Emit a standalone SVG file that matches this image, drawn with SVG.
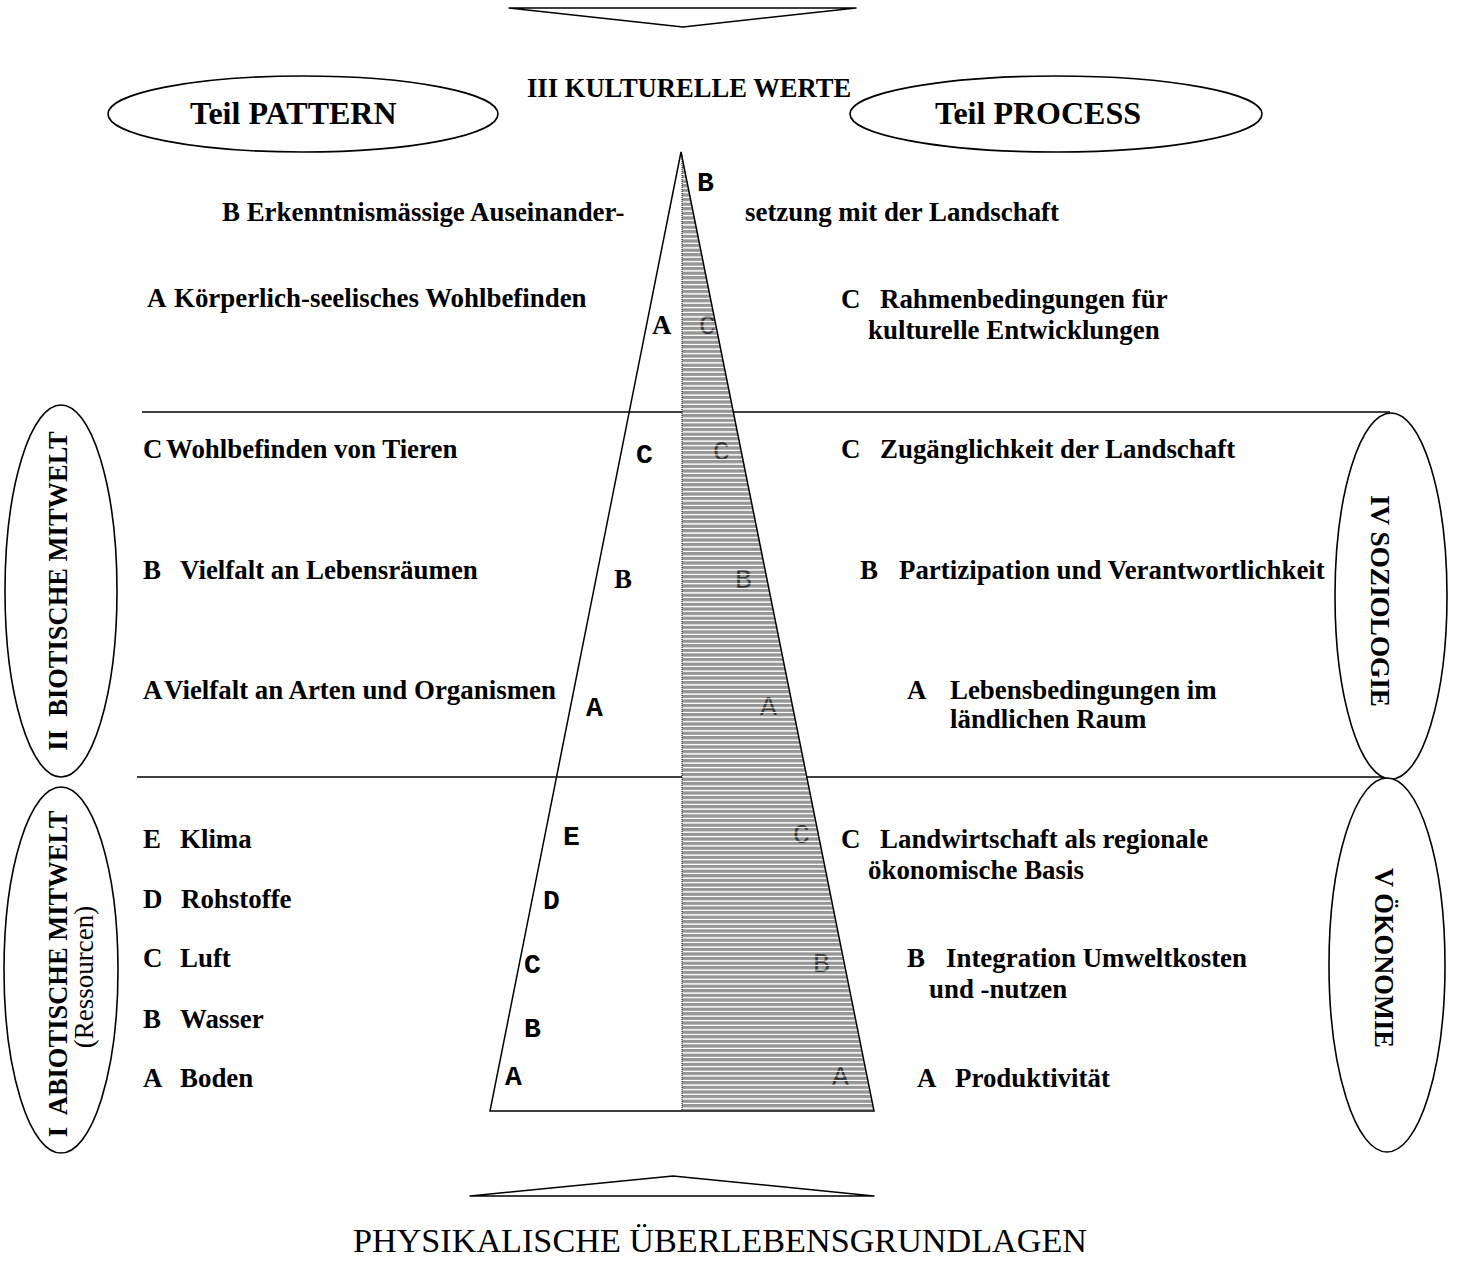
<svg xmlns="http://www.w3.org/2000/svg" width="1458" height="1263" viewBox="0 0 1458 1263">
<style>
.t{font-family:"Liberation Serif","Times New Roman",serif;font-weight:bold;font-size:26.9px;fill:#000}
.r{font-family:"Liberation Serif","Times New Roman",serif;font-weight:normal;fill:#000}
.m{font-family:"Liberation Mono","Courier New",monospace;font-weight:bold;font-size:28px;fill:#000}
.h{font-family:"Liberation Mono","Courier New",monospace;font-weight:normal;font-size:28px;fill:#333}
.ln{stroke:#000;stroke-width:1.5;fill:none}
.el{stroke:#000;stroke-width:1.6;fill:#fff}
</style>
<defs>
<pattern id="hatch" patternUnits="userSpaceOnUse" width="8" height="4.6">
<rect width="8" height="4.6" fill="#969696"/>
<rect y="3.6" width="8" height="1" fill="#fff"/>
</pattern>
<pattern id="wl" patternUnits="userSpaceOnUse" width="8" height="4.6">
<rect y="3.6" width="8" height="1" fill="#fff"/>
</pattern>
</defs>
<rect width="1458" height="1263" fill="#fff"/>

<g id="connectors">
<polygon points="509,8 856,8 683,27" class="ln" stroke-width="2" stroke-linejoin="round"/>
<polygon points="470,1196 874,1196 673,1176" class="ln" stroke-width="2" stroke-linejoin="round"/>
<line x1="142" y1="412" x2="1390" y2="412" class="ln"/>
<line x1="137" y1="777" x2="1390" y2="777" class="ln"/>
</g>

<g id="pyramid">
<polygon points="682,155 873,1110 682,1110" fill="url(#hatch)"/>
<g id="hatch-letters">
<text class="h" x="699" y="334">C</text>
<text class="h" x="713" y="460">C</text>
<text class="h" x="735" y="588">B</text>
<text class="h" x="760" y="715">A</text>
<text class="h" x="793" y="843">C</text>
<text class="h" x="813" y="972">B</text>
<text class="h" x="832" y="1085">A</text>
</g>
<polygon points="682,155 873,1110 682,1110" fill="url(#wl)"/>
<line x1="682" y1="155" x2="682" y2="1111" stroke="#000" stroke-width="1" stroke-dasharray="1,1"/>
<polygon points="681,152 874,1111 490,1111" class="ln" stroke-linejoin="miter"/>
</g>

<g id="pattern-ellipse">
<ellipse cx="303" cy="114" rx="195" ry="38" class="el"/>
<text class="t" x="190" y="124" style="font-size:32px">Teil PATTERN</text>
</g>
<g id="process-ellipse">
<ellipse cx="1056" cy="114" rx="206" ry="38" class="el"/>
<text class="t" x="935" y="124" style="font-size:32px">Teil PROCESS</text>
</g>
<g id="title-III">
<text class="t" x="527" y="97" style="font-size:26.6px">III KULTURELLE WERTE</text>
</g>

<g id="node-II">
<ellipse cx="61" cy="591" rx="56" ry="186" class="el"/>
<text class="t" transform="translate(67,591) rotate(-90)" text-anchor="middle" xml:space="preserve" style="font-size:26.5px">II  BIOTISCHE MITWELT</text>
</g>
<g id="node-I">
<ellipse cx="61" cy="970" rx="57" ry="183" class="el"/>
<text class="t" transform="translate(67,974) rotate(-90)" text-anchor="middle" xml:space="preserve" style="font-size:26.5px">I  ABIOTISCHE MITWELT</text>
<text class="r" style="font-size:27px" transform="translate(93,977) rotate(-90)" text-anchor="middle">(Ressourcen)</text>
</g>
<g id="node-IV">
<ellipse cx="1391" cy="596" rx="56" ry="183" class="el"/>
<text class="t" transform="translate(1371,601) rotate(90)" text-anchor="middle" textLength="212" lengthAdjust="spacingAndGlyphs" style="font-size:26.5px">IV SOZIOLOGIE</text>
</g>
<g id="node-V">
<ellipse cx="1387" cy="965" rx="58" ry="187" class="el"/>
<text class="t" transform="translate(1375,958) rotate(90)" text-anchor="middle" style="font-size:26.5px">V ÖKONOMIE</text>
</g>

<g id="pyramid-letters">
<text class="m" x="697" y="191">B</text>
<text class="t" x="652" y="334">A</text>
<text class="m" x="636" y="463">C</text>
<text class="t" x="614" y="588">B</text>
<text class="m" x="586" y="716">A</text>
<text class="m" x="563" y="845">E</text>
<text class="m" x="543" y="909">D</text>
<text class="m" x="524" y="973">C</text>
<text class="m" x="524" y="1037">B</text>
<text class="m" x="505" y="1085">A</text>
</g>

<g id="level-III-left">
<text class="t" x="222" y="221">B Erkenntnismässige Auseinander-</text>
<text class="t" x="147" y="307">A</text><text class="t" x="174" y="307">Körperlich-seelisches Wohlbefinden</text>
</g>
<g id="level-III-right">
<text class="t" x="745" y="221">setzung mit der Landschaft</text>
<text class="t" x="841" y="308">C</text><text class="t" x="880" y="308">Rahmenbedingungen für</text>
<text class="t" x="868" y="339">kulturelle Entwicklungen</text>
</g>
<g id="level-II-left">
<text class="t" x="143" y="458">C</text><text class="t" x="166" y="458">Wohlbefinden von Tieren</text>
<text class="t" x="143" y="579">B</text><text class="t" x="180" y="579">Vielfalt an Lebensräumen</text>
<text class="t" x="143" y="699">A</text><text class="t" x="164" y="699">Vielfalt an Arten und Organismen</text>
</g>
<g id="level-IV-right">
<text class="t" x="841" y="458">C</text><text class="t" x="880" y="458">Zugänglichkeit der Landschaft</text>
<text class="t" x="860" y="579">B</text><text class="t" x="899" y="579">Partizipation und Verantwortlichkeit</text>
<text class="t" x="907" y="699">A</text><text class="t" x="950" y="699">Lebensbedingungen im</text>
<text class="t" x="950" y="728">ländlichen Raum</text>
</g>
<g id="level-I-left">
<text class="t" x="143" y="848">E</text><text class="t" x="180" y="848">Klima</text>
<text class="t" x="143" y="908">D</text><text class="t" x="181" y="908">Rohstoffe</text>
<text class="t" x="143" y="967">C</text><text class="t" x="180" y="967">Luft</text>
<text class="t" x="143" y="1028">B</text><text class="t" x="180" y="1028">Wasser</text>
<text class="t" x="143" y="1087">A</text><text class="t" x="180" y="1087">Boden</text>
</g>
<g id="level-V-right">
<text class="t" x="841" y="848">C</text><text class="t" x="880" y="848">Landwirtschaft als regionale</text>
<text class="t" x="868" y="879">ökonomische Basis</text>
<text class="t" x="907" y="967">B</text><text class="t" x="946" y="967">Integration Umweltkosten</text>
<text class="t" x="929" y="998">und -nutzen</text>
<text class="t" x="917" y="1087">A</text><text class="t" x="955" y="1087">Produktivität</text>
</g>
<g id="footer">
<text class="r" x="720" y="1252" style="font-size:34.2px" text-anchor="middle">PHYSIKALISCHE ÜBERLEBENSGRUNDLAGEN</text>
</g>
</svg>
